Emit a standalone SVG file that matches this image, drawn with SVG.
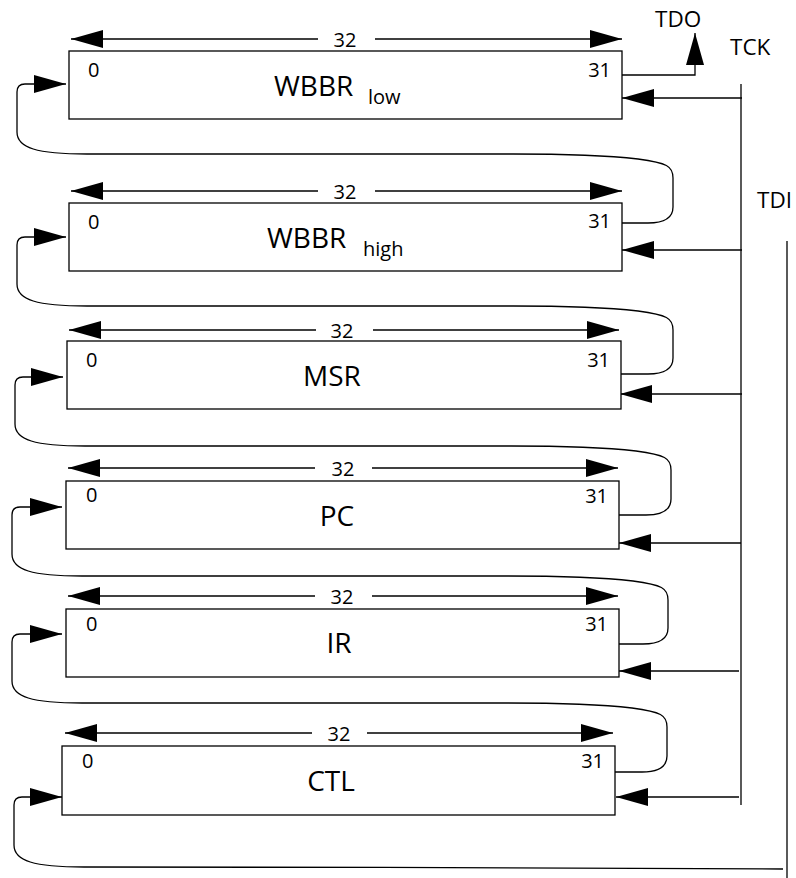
<svg xmlns="http://www.w3.org/2000/svg" width="796" height="878" viewBox="0 0 796 878">
<style>
.box{fill:#fff;stroke:#000;stroke-width:1.3}
.ln{fill:none;stroke:#000;stroke-width:1.3}
.ar{fill:none;stroke:#000;stroke-width:1.3;marker-end:url(#ah)}
text{font-family:"Open Sans","Liberation Sans",sans-serif;fill:#000}
.num{font-size:20px}
.lab{font-size:28px}
.sub{font-size:20px}
.sig{font-size:22.5px}
.mid{text-anchor:middle}
.end{text-anchor:end}
</style>
<defs>
<marker id="ah" viewBox="0 0 32 18" refX="32" refY="9" markerWidth="32" markerHeight="18" markerUnits="userSpaceOnUse" orient="auto">
<path d="M0,0 L32,9 L0,18 Z" fill="#000"/>
</marker>
</defs>

<g id="connectors">
<path class="ar" d="M318,39 H71"/><path class="ar" d="M375,39 H622"/>
<path class="ar" d="M318,191 H71"/><path class="ar" d="M375,191 H622"/>
<path class="ar" d="M316,330 H69"/><path class="ar" d="M373,330 H619"/>
<path class="ar" d="M315,468 H68"/><path class="ar" d="M372,468 H618"/>
<path class="ar" d="M315,596 H68"/><path class="ar" d="M372,596 H618"/>
<path class="ar" d="M312,733 H65"/><path class="ar" d="M367,733 H613"/>
<path class="ar" d="M622,75 H695 V33"/>
<path class="ln" d="M741,84 V805"/>
<path class="ar" d="M742,98 H622"/>
<path class="ar" d="M742,250 H622"/>
<path class="ar" d="M742,394 H620"/>
<path class="ar" d="M741,543 H619"/>
<path class="ar" d="M739,671 H619"/>
<path class="ar" d="M739,797 H616"/>
<path class="ln" d="M787,241 V878"/>
<path class="ar" d="M783,869 C600,868 300,867 84,867 C34,867 14,861 14,845 V805 Q14,797 22,797 H62"/>
<path class="ar" d="M622,223 H648 C665,223 673,218 673,207 V178 C673,166 667,163 638,159 C603,155 563,154 513,154 H87 C37,154 17,148 17,132 V92 Q17,84 25,84 H66"/>
<path class="ar" d="M621,374 H648 C665,374 673,369 673,358 V330 C673,318 667,315 638,311 C603,307 563,306 513,306 H87 C37,306 17,300 17,284 V245 Q17,237 25,237 H66"/>
<path class="ar" d="M619,515 H646 C663,515 671,510 671,499 V470 C671,458 665,455 636,451 C601,447 561,446 511,446 H85 C35,446 15,440 15,424 V385 Q15,377 23,377 H63"/>
<path class="ar" d="M619,644 H643 C660,644 668,639 668,628 V600 C668,588 662,585 633,581 C598,577 558,576 508,576 H82 C32,576 12,570 12,554 V515 Q12,507 20,507 H62"/>
<path class="ar" d="M615,772 H642 C659,772 667,767 667,756 V727 C667,715 661,712 632,708 C597,704 557,703 507,703 H82 C32,703 12,697 12,681 V642 Q12,634 20,634 H62"/>
</g>

<g id="labels">
<text class="num mid" x="345" y="47">32</text>
<text class="num mid" x="345" y="199">32</text>
<text class="num mid" x="342" y="338">32</text>
<text class="num mid" x="343" y="476">32</text>
<text class="num mid" x="342" y="604">32</text>
<text class="num mid" x="339" y="741">32</text>
<text class="sig" x="655" y="27">TDO</text>
<text class="sig" x="730" y="55">TCK</text>
<text class="sig" x="757" y="208">TDI</text>
</g>

<g id="wbbr-low">
<rect class="box" x="69" y="51" width="553" height="68"/>
<text class="num" x="88" y="77">0</text>
<text class="num end" x="611" y="77">31</text>
<text class="lab" x="274" y="96">WBBR</text>
<text class="sub" x="368" y="104">low</text>
</g>

<g id="wbbr-high">
<rect class="box" x="69" y="203" width="553" height="68"/>
<text class="num" x="88" y="229">0</text>
<text class="num end" x="611" y="228">31</text>
<text class="lab" x="267" y="248">WBBR</text>
<text class="sub" x="363" y="256">high</text>
</g>

<g id="msr">
<rect class="box" x="67" y="341" width="554" height="68"/>
<text class="num" x="86" y="367">0</text>
<text class="num end" x="610" y="367">31</text>
<text class="lab mid" x="332" y="386">MSR</text>
</g>

<g id="pc">
<rect class="box" x="66" y="481" width="553" height="68"/>
<text class="num" x="86" y="502">0</text>
<text class="num end" x="608" y="503">31</text>
<text class="lab mid" x="337" y="526">PC</text>
</g>

<g id="ir">
<rect class="box" x="66" y="609" width="553" height="68"/>
<text class="num" x="86" y="631">0</text>
<text class="num end" x="608" y="631">31</text>
<text class="lab mid" x="339" y="653">IR</text>
</g>

<g id="ctl">
<rect class="box" x="62" y="746" width="553" height="69"/>
<text class="num" x="82" y="768">0</text>
<text class="num end" x="604" y="768">31</text>
<text class="lab mid" x="331" y="791">CTL</text>
</g>
</svg>
